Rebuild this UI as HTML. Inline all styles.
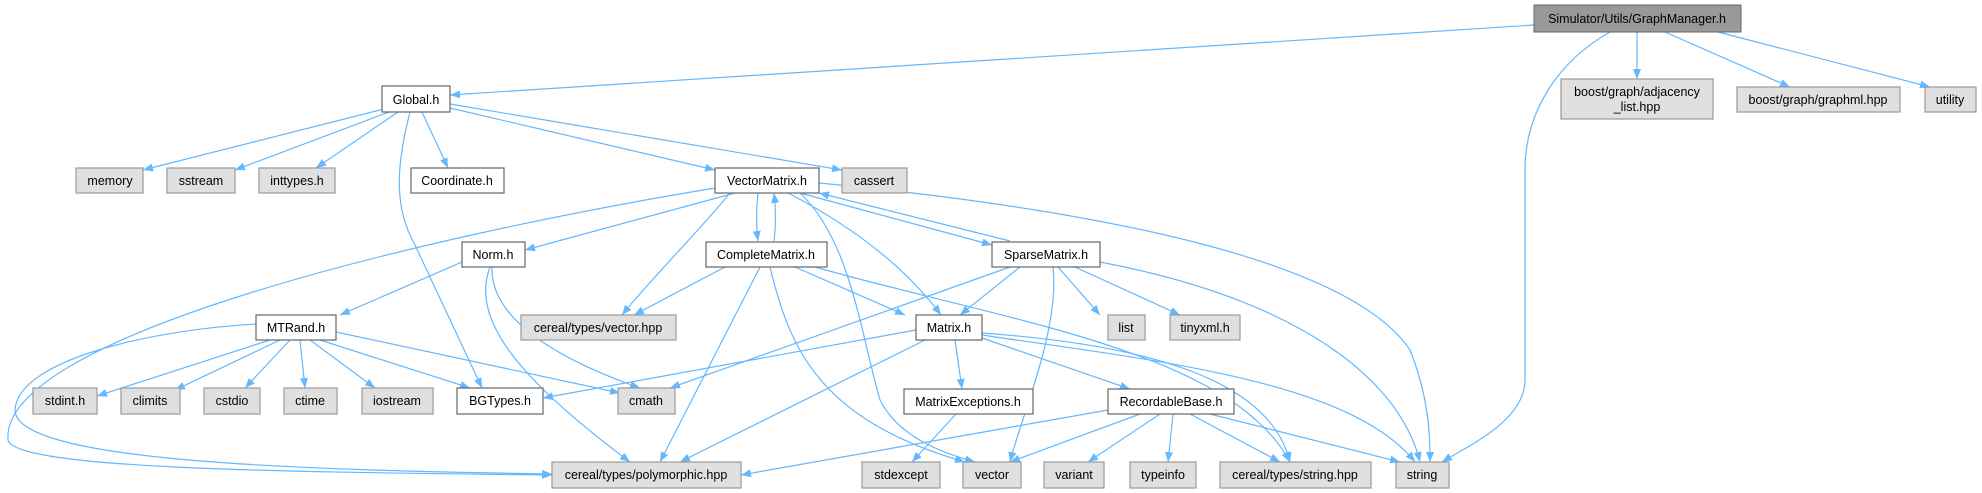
<!DOCTYPE html>
<html><head><meta charset="utf-8"><style>
html,body{margin:0;padding:0;background:#fff;width:1982px;height:493px;overflow:hidden}
svg text{font-family:"Liberation Sans",Helvetica,Arial,sans-serif;font-size:12.5px;fill:#000}
.e{fill:none;stroke:#63b8ff;stroke-width:1.2;marker-end:url(#a)}
.w{fill:#fff;stroke:#666;stroke-width:1.2}
.g{fill:#e0e0e0;stroke:#999;stroke-width:1.2}
</style></head><body>
<svg width="1982" height="493" viewBox="0 0 1982 493" xmlns="http://www.w3.org/2000/svg">
<defs><marker id="a" viewBox="0 0 10 10" refX="10" refY="5" markerWidth="10" markerHeight="10" markerUnits="userSpaceOnUse" orient="auto"><path d="M0,1 L10,5 L0,9 z" fill="#63b8ff"/></marker></defs>
<g>
<path class="e" d="M1534,25 L450,95"/>
<path class="e" d="M1637,32 L1637,79"/>
<path class="e" d="M1665,32 L1790,87"/>
<path class="e" d="M1718,32 L1930,87"/>
<path class="e" d="M1610,32 C1560,60 1525,110 1525,170 L1525,380 C1525,420 1470,445 1442,462"/>
<path class="e" d="M384,109 L143,170"/>
<path class="e" d="M389,112 L235,170"/>
<path class="e" d="M398,112 L316,168"/>
<path class="e" d="M422,112 L448,168"/>
<path class="e" d="M450,108 L715,170"/>
<path class="e" d="M450,104 L842,170"/>
<path class="e" d="M410,112 C395,170 395,210 415,245 L482,388"/>
<path class="e" d="M735,193 L525,250"/>
<path class="e" d="M758,193 C756,210 756,225 758,241"/>
<path class="e" d="M774,241 C776,225 776,210 774,193"/>
<path class="e" d="M730,193 C700,230 650,280 622,315"/>
<path class="e" d="M725,267 L634,315"/>
<path class="e" d="M788,193 C840,220 900,260 941,315"/>
<path class="e" d="M800,193 C850,240 860,330 880,400 C900,440 950,455 975,462"/>
<path class="e" d="M770,267 C790,350 820,420 965,462"/>
<path class="e" d="M800,193 L992,245"/>
<path class="e" d="M1010,241 L819,193"/>
<path class="e" d="M715,188 C400,240 0,340 8,440 C15,470 300,472 552,475"/>
<path class="e" d="M256,324 C150,330 18,360 15,410 C15,462 300,470 552,474"/>
<path class="e" d="M819,183 C1100,210 1350,260 1410,350 C1430,400 1430,440 1430,462"/>
<path class="e" d="M1100,262 C1300,300 1400,380 1420,462"/>
<path class="e" d="M1020,267 L960,315"/>
<path class="e" d="M1010,267 L670,388"/>
<path class="e" d="M1058,267 L1100,315"/>
<path class="e" d="M1075,267 L1180,315"/>
<path class="e" d="M1053,267 C1060,330 1020,420 1010,462"/>
<path class="e" d="M795,267 L905,315"/>
<path class="e" d="M760,267 L660,462"/>
<path class="e" d="M815,267 C1000,320 1230,350 1290,462"/>
<path class="e" d="M462,262 L340,315"/>
<path class="e" d="M492,267 C490,320 560,360 640,388"/>
<path class="e" d="M490,267 C470,320 520,380 630,462"/>
<path class="e" d="M270,340 L97,396"/>
<path class="e" d="M280,340 L175,390"/>
<path class="e" d="M290,340 L245,388"/>
<path class="e" d="M300,340 L305,388"/>
<path class="e" d="M310,340 L375,388"/>
<path class="e" d="M320,340 L470,388"/>
<path class="e" d="M336,332 L620,393"/>
<path class="e" d="M916,330 L543,398"/>
<path class="e" d="M925,340 L680,462"/>
<path class="e" d="M955,340 L962,389"/>
<path class="e" d="M982,338 L1130,389"/>
<path class="e" d="M982,335 C1150,360 1350,380 1415,462"/>
<path class="e" d="M982,333 C1150,345 1270,380 1290,462"/>
<path class="e" d="M956,414 L912,462"/>
<path class="e" d="M1108,410 L741,475"/>
<path class="e" d="M1140,414 L1010,462"/>
<path class="e" d="M1160,414 L1088,462"/>
<path class="e" d="M1173,414 L1168,462"/>
<path class="e" d="M1190,414 L1280,462"/>
<path class="e" d="M1210,414 L1400,462"/>
</g>
<g text-anchor="middle">
<rect x="1534" y="5" width="207" height="27" fill="#999" stroke="#666"/><text x="1637" y="23">Simulator/Utils/GraphManager.h</text>
<rect class="g" x="1561" y="79" width="152" height="40"/><text x="1637" y="96">boost/graph/adjacency</text><text x="1637" y="111">_list.hpp</text>
<rect class="g" x="1737" y="87" width="163" height="25"/><text x="1818" y="104">boost/graph/graphml.hpp</text>
<rect class="g" x="1925" y="87" width="51" height="25"/><text x="1950" y="104">utility</text>
<rect class="w" x="382" y="86" width="68" height="26"/><text x="416" y="104">Global.h</text>
<rect class="g" x="76" y="168" width="67" height="25"/><text x="110" y="185">memory</text>
<rect class="g" x="167" y="168" width="68" height="25"/><text x="201" y="185">sstream</text>
<rect class="g" x="259" y="168" width="76" height="25"/><text x="297" y="185">inttypes.h</text>
<rect class="w" x="411" y="168" width="93" height="25"/><text x="457" y="185">Coordinate.h</text>
<rect class="w" x="715" y="168" width="104" height="25"/><text x="767" y="185">VectorMatrix.h</text>
<rect class="g" x="842" y="168" width="65" height="25"/><text x="874" y="185">cassert</text>
<rect class="w" x="462" y="242" width="63" height="25"/><text x="493" y="259">Norm.h</text>
<rect class="w" x="706" y="242" width="121" height="25"/><text x="766" y="259">CompleteMatrix.h</text>
<rect class="w" x="992" y="242" width="108" height="25"/><text x="1046" y="259">SparseMatrix.h</text>
<rect class="w" x="256" y="315" width="80" height="25"/><text x="296" y="332">MTRand.h</text>
<rect class="g" x="521" y="315" width="155" height="25"/><text x="598" y="332">cereal/types/vector.hpp</text>
<rect class="w" x="916" y="315" width="66" height="25"/><text x="949" y="332">Matrix.h</text>
<rect class="g" x="1108" y="315" width="37" height="25"/><text x="1126" y="332">list</text>
<rect class="g" x="1170" y="315" width="70" height="25"/><text x="1205" y="332">tinyxml.h</text>
<rect class="g" x="33" y="388" width="64" height="26"/><text x="65" y="405">stdint.h</text>
<rect class="g" x="121" y="388" width="59" height="26"/><text x="150" y="405">climits</text>
<rect class="g" x="204" y="388" width="56" height="26"/><text x="232" y="405">cstdio</text>
<rect class="g" x="284" y="388" width="53" height="26"/><text x="310" y="405">ctime</text>
<rect class="g" x="362" y="388" width="71" height="26"/><text x="397" y="405">iostream</text>
<rect class="w" x="457" y="388" width="86" height="26"/><text x="500" y="405">BGTypes.h</text>
<rect class="g" x="618" y="388" width="57" height="26"/><text x="646" y="405">cmath</text>
<rect class="w" x="904" y="389" width="129" height="25"/><text x="968" y="406">MatrixExceptions.h</text>
<rect class="w" x="1108" y="389" width="126" height="25"/><text x="1171" y="406">RecordableBase.h</text>
<rect class="g" x="552" y="462" width="189" height="26"/><text x="646" y="479">cereal/types/polymorphic.hpp</text>
<rect class="g" x="862" y="462" width="78" height="26"/><text x="901" y="479">stdexcept</text>
<rect class="g" x="963" y="462" width="58" height="26"/><text x="992" y="479">vector</text>
<rect class="g" x="1044" y="462" width="60" height="26"/><text x="1074" y="479">variant</text>
<rect class="g" x="1130" y="462" width="66" height="26"/><text x="1163" y="479">typeinfo</text>
<rect class="g" x="1220" y="462" width="151" height="26"/><text x="1295" y="479">cereal/types/string.hpp</text>
<rect class="g" x="1396" y="462" width="53" height="26"/><text x="1422" y="479">string</text>
</g>
</svg>
</body></html>
